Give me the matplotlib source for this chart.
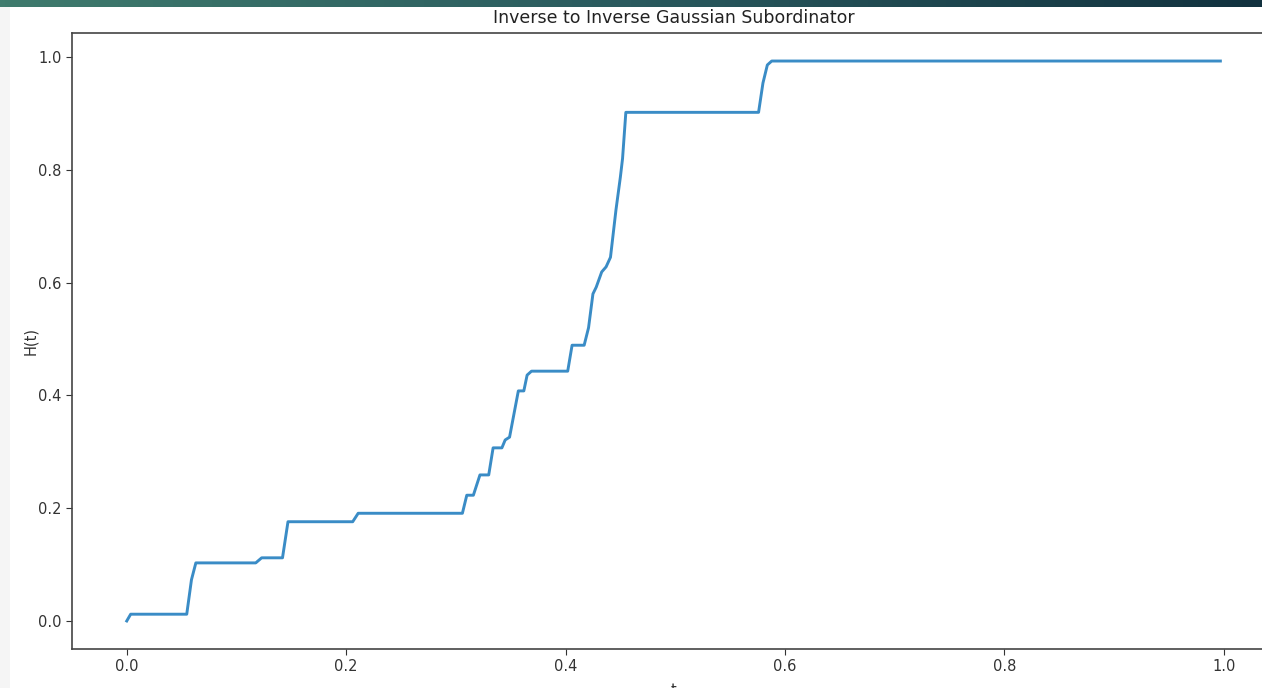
import numpy as np
import matplotlib
matplotlib.use('Agg')
import matplotlib.pyplot as plt
from matplotlib.colors import LinearSegmentedColormap

# sample path of the inverse subordinator (vertices)
t = [0.0, 0.0036, 0.0547, 0.059, 0.063, 0.1176, 0.123, 0.142, 0.147, 0.206,
     0.211, 0.306, 0.310, 0.316, 0.322, 0.330, 0.334, 0.342, 0.345, 0.349,
     0.357, 0.362, 0.365, 0.369, 0.402, 0.406, 0.417, 0.421, 0.425, 0.428,
     0.433, 0.437, 0.441, 0.446, 0.450, 0.452, 0.455, 0.576, 0.580, 0.584,
     0.588, 0.997]
H = [0.0, 0.012, 0.012, 0.073, 0.103, 0.103, 0.112, 0.112, 0.176, 0.176,
     0.191, 0.191, 0.223, 0.223, 0.259, 0.259, 0.307, 0.307, 0.321, 0.326,
     0.408, 0.408, 0.436, 0.443, 0.443, 0.489, 0.489, 0.520, 0.580, 0.592,
     0.619, 0.628, 0.645, 0.729, 0.787, 0.820, 0.902, 0.902, 0.954, 0.986,
     0.993, 0.993]

TITLE = 'Inverse to Inverse Gaussian Subordinator'
W, Hpx = 1262, 688

fig = plt.figure(figsize=(W / 100, Hpx / 100), dpi=100)

# screenshot chrome: gradient bar on top, light strip on the left
bar = fig.add_axes([0, 1 - 7 / Hpx, 1, 7 / Hpx])
cmap = LinearSegmentedColormap.from_list('bar', ['#3f7b6d', '#2a5a5e', '#12323f'])
bar.imshow(np.linspace(0, 1, 256)[None, :], aspect='auto', cmap=cmap)
bar.axis('off')
strip = fig.add_axes([0, 0, 10 / W, 1 - 7 / Hpx])
strip.axis('off')
strip.add_patch(plt.Rectangle((0, 0), 1, 1, color='#f5f5f5', transform=strip.transAxes))

# axes spans px 72..1275 horizontally (right edge cut off), 33..649 vertically
ax = fig.add_axes([72 / W, (Hpx - 649) / Hpx, (1275 - 72) / W, (649 - 33) / Hpx])
ax.plot(t, H, color='#3a8cc6', lw=2.1)
ax.set_xlim(-0.0499, 1.0468)
ax.set_ylim(-0.0497, 1.0427)
ax.set_xticks([0.0, 0.2, 0.4, 0.6, 0.8, 1.0])
ax.set_yticks([0.0, 0.2, 0.4, 0.6, 0.8, 1.0])
ax.tick_params(labelsize=10.5, colors='#333333', length=4)
for s in ax.spines.values():
    s.set_color('#444444')
    s.set_linewidth(1.2)
ax.set_title(TITLE, fontsize=12.5, color='#222222', pad=7)
ax.set_xlabel('t', fontsize=10.5, color='#333333', labelpad=6)
ax.set_ylabel('H(t)', fontsize=10.5, color='#333333', labelpad=0)

fig.savefig('out.png', dpi=100)
